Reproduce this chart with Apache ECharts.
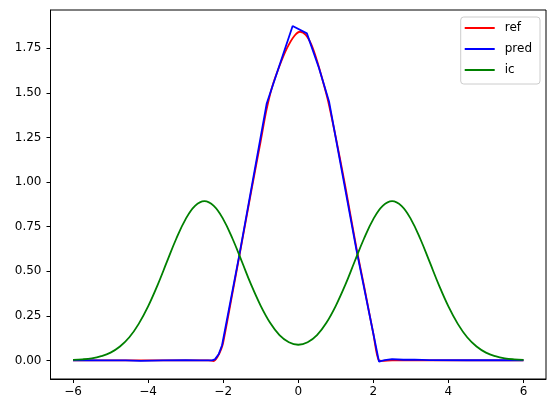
<!DOCTYPE html>
<html>
<head>
<meta charset="utf-8">
<script src="https://cdn.jsdelivr.net/npm/echarts@6/dist/echarts.min.js"></script>
<style>
html,body{margin:0;padding:0;background:#fff;}
#chart{width:556px;height:413px;}
</style>
</head>
<body>
<div id="chart"></div>
<script>
// ---- data ----
var seriesNames = ['ref', 'pred', 'ic'];

var refX = [-6, -5, -4, -3, -2.4, -2.25, -2.15, -2.05, -2.0, -1.75, -1.5, -1.25, -1.0, -0.85, -0.7, -0.5, -0.3, -0.1, 0.05, 0.2, 0.35, 0.5, 0.65, 0.8, 1.0, 1.25, 1.55, 1.75, 2.0, 2.15, 2.25, 2.5, 3, 4, 5, 6];
var refY = [0, 0, 0, 0, 0, -0.003, 0.02, 0.065, 0.10, 0.38, 0.665, 0.95, 1.23, 1.40, 1.53, 1.65, 1.75, 1.82, 1.842, 1.825, 1.77, 1.68, 1.57, 1.45, 1.25, 0.98, 0.63, 0.42, 0.15, 0.0, -0.002, 0.0, 0.0, 0.0, 0.0, 0.0];

var predX = [-6, -5.2, -4.6, -4.2, -3.6, -3.0, -2.6, -2.3, -2.22, -2.12, -2.03, -1.57, -0.84, -0.15, 0.23, 0.55, 0.82, 1.55, 2.15, 2.3, 2.5, 2.8, 3.1, 3.5, 4.5, 6];
var predY = [0.001, 0.0, 0.0, -0.002, 0.0, 0.001, 0.0, 0.0, 0.006, 0.035, 0.085, 0.59, 1.44, 1.874, 1.833, 1.64, 1.451, 0.62, -0.006, 0.002, 0.007, 0.004, 0.005, 0.002, 0.001, 0.001];

var icX = [-6, -5.75, -5.5, -5.25, -5, -4.75, -4.5, -4.25, -4, -3.75, -3.5, -3.25, -3, -2.75, -2.5, -2.25, -2, -1.75, -1.5, -1.25, -1, -0.75, -0.5, -0.25, 0,
           0.25, 0.5, 0.75, 1, 1.25, 1.5, 1.75, 2, 2.25, 2.5, 2.75, 3, 3.25, 3.5, 3.75, 4, 4.25, 4.5, 4.75, 5, 5.25, 5.5, 5.75, 6];
var icY = [0.003, 0.006, 0.012, 0.024, 0.044, 0.078, 0.130, 0.205, 0.303, 0.421, 0.552, 0.682, 0.792, 0.866, 0.893, 0.866, 0.792, 0.682, 0.553, 0.422, 0.306, 0.211, 0.142, 0.102, 0.088,
           0.102, 0.142, 0.211, 0.306, 0.422, 0.553, 0.682, 0.792, 0.866, 0.893, 0.866, 0.792, 0.682, 0.552, 0.421, 0.303, 0.205, 0.130, 0.078, 0.044, 0.024, 0.012, 0.006, 0.003];

var xTicks = [-6, -4, -2, 0, 2, 4, 6];
var yTicks = [0, 0.25, 0.5, 0.75, 1.0, 1.25, 1.5, 1.75];

function pairs(xs, ys) { return xs.map(function (x, i) { return [x, ys[i]]; }); }

var FONT = 'DejaVu Sans';
var chart = echarts.init(document.getElementById('chart'), null, {renderer: 'canvas'});
chart.setOption({
  animation: false,
  backgroundColor: '#ffffff',
  grid: {left: 50.5, right: 10, top: 10, bottom: 34, show: true, borderColor: '#000', borderWidth: 1, backgroundColor: 'transparent'},
  legend: {
    data: seriesNames,
    orient: 'vertical',
    right: 16, top: 17,
    icon: 'rect', itemWidth: 30, itemHeight: 2, itemGap: 7,
    padding: [4, 8, 7, 4],
    borderColor: '#cccccc', borderWidth: 1, borderRadius: 3,
    backgroundColor: 'rgba(255,255,255,0.8)',
    textStyle: {fontFamily: FONT, fontSize: 12, color: '#000', lineHeight: 14, padding: [0, 0, 0, 5]}
  },
  xAxis: {
    type: 'value', min: -6.6, max: 6.6,
    axisLine: {show: true, onZero: false, lineStyle: {color: '#000', width: 1}},
    axisTick: {show: true, length: 4, inside: false, customValues: xTicks, lineStyle: {color: '#000', width: 1}},
    axisLabel: {customValues: xTicks, margin: 7, fontFamily: FONT, fontSize: 12, color: '#000',
      formatter: function (v) { return v < 0 ? '\u2212' + Math.abs(v) : String(v); }},
    splitLine: {show: false}
  },
  yAxis: {
    type: 'value', min: -0.104, max: 1.964,
    axisLine: {show: true, onZero: false, lineStyle: {color: '#000', width: 1}},
    axisTick: {show: true, length: 4, inside: false, customValues: yTicks, lineStyle: {color: '#000', width: 1}},
    axisLabel: {customValues: yTicks, margin: 9, fontFamily: FONT, fontSize: 12, color: '#000',
      formatter: function (v) { return v.toFixed(2); }},
    splitLine: {show: false}
  },
  series: [
    {name: 'ref', type: 'line', data: pairs(refX, refY), smooth: 0.3, showSymbol: false, symbol: 'none',
      itemStyle: {color: '#ff0000'}, lineStyle: {color: '#ff0000', width: 1.8}},
    {name: 'pred', type: 'line', data: pairs(predX, predY), smooth: false, showSymbol: false, symbol: 'none',
      itemStyle: {color: '#0000ff'}, lineStyle: {color: '#0000ff', width: 1.8}},
    {name: 'ic', type: 'line', data: pairs(icX, icY), smooth: 0.4, showSymbol: false, symbol: 'none',
      itemStyle: {color: '#008000'}, lineStyle: {color: '#008000', width: 1.8}}
  ]
});
</script>
</body>
</html>
